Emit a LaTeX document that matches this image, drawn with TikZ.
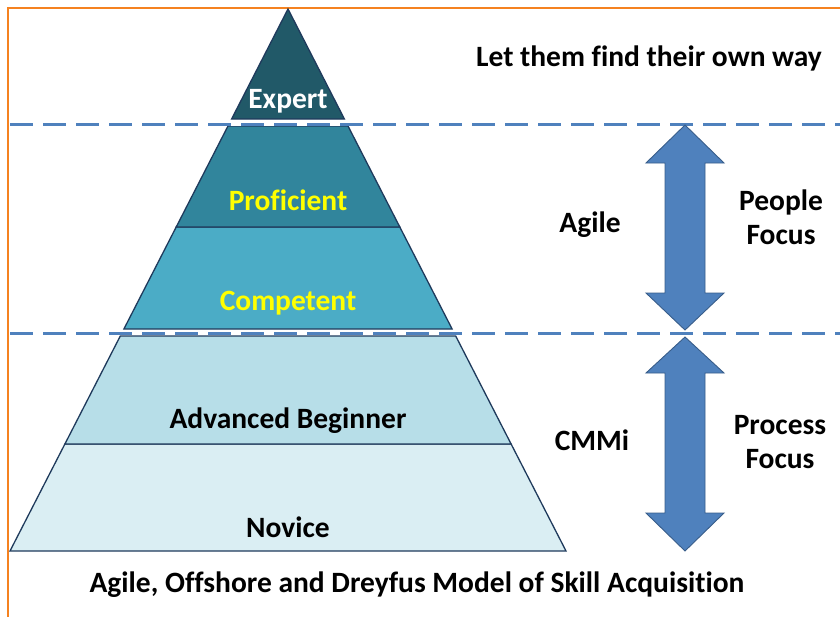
\documentclass[tikz,border=0pt]{standalone}
\usepackage{fontspec}
\setmainfont{Carlito}[Ligatures=NoCommon]
\definecolor{expertc}{HTML}{215968}
\definecolor{profc}{HTML}{31859C}
\definecolor{compc}{HTML}{4BACC6}
\definecolor{advc}{HTML}{B7DEE8}
\definecolor{novc}{HTML}{DAEEF3}
\definecolor{edgec}{HTML}{1F3A5C}
\definecolor{blue1}{HTML}{4F81BD}
\definecolor{blue2}{HTML}{385D8A}
\definecolor{orangec}{HTML}{F58220}
\definecolor{yel}{HTML}{FFFF00}
\tikzset{
  layer/.style={draw=edgec, line width=1.3pt, line join=miter},
  sep/.style={draw=blue1, line width=3pt, dash pattern=on 23pt off 10pt},
  bigarrow/.style={fill=blue1, draw=blue2, line width=0.9pt},
  lbl/.style={font=\fontsize{29.5}{34}\selectfont\bfseries, anchor=base, inner sep=0pt},
}
\begin{document}
\begin{tikzpicture}[x=1pt,y=-1pt]
\useasboundingbox (0,0) rectangle (840,616);
% border
\draw[orangec, line width=2.5pt] (8,617) -- (8,8) -- (841,8);
% pyramid layers
\fill[novc] (64.9,444) -- (511.1,444) -- (566,551) -- (10,551) -- cycle;
\draw[layer] (64.9,444) -- (511.1,444) -- (566,551) -- (10,551) -- cycle;
\fill[advc] (120.3,336) -- (455.7,336) -- (511.1,444) -- (64.9,444) -- cycle;
\draw[layer] (120.3,336) -- (455.7,336) -- (511.1,444) -- (64.9,444) -- cycle;
\fill[compc] (176.2,227) -- (399.8,227) -- (452.1,329) -- (123.9,329) -- cycle;
\draw[layer] (176.2,227) -- (399.8,227) -- (452.1,329) -- (123.9,329) -- cycle;
\fill[profc] (228,126) -- (348,126) -- (399.8,227) -- (176.2,227) -- cycle;
\draw[layer] (228,126) -- (348,126) -- (399.8,227) -- (176.2,227) -- cycle;
\fill[expertc] (288,9) -- (344.4,119) -- (231.6,119) -- cycle;
\draw[layer] (288,9) -- (344.4,119) -- (231.6,119) -- cycle;
% separators
\coordinate (s1a) at (10,124); \coordinate (s1b) at (840,124);
\coordinate (s2a) at (10,333); \coordinate (s2b) at (840,333);
\draw[white, line width=4pt] (120,124) -- (360,124);
\draw[white, line width=4pt] (110,333) -- (470,333);
\draw[sep] (s1a) -- (s1b);
\draw[sep] (s2a) -- (s2b);
% arrows
\draw[bigarrow] (685,125) -- (724,163) -- (705,163) -- (705,293) -- (724,293) -- (685,330)
  -- (646,293) -- (665,293) -- (665,163) -- (646,163) -- cycle;
\draw[bigarrow] (685,337) -- (724,373) -- (705,373) -- (705,513) -- (724,513) -- (685,551)
  -- (646,513) -- (665,513) -- (665,373) -- (646,373) -- cycle;
% labels
\node[lbl, text=white] (expert) at (288,108) {Expert};
\node[lbl, text=yel] (prof) at (288,210) {Proficient};
\node[lbl, text=yel] (comp) at (288,310) {Competent};
\node[lbl] (adv) at (288,428) {Advanced Beginner};
\node[lbl] (nov) at (288,537) {Novice};
\node[lbl] (own) at (649,66) {Let them find their own way};
\node[lbl] (agile) at (590,232) {Agile};
\node[lbl] (people) at (781,210) {People};
\node[lbl] (focus1) at (781,244) {Focus};
\node[lbl] (cmmi) at (592,450) {CMMi};
\node[lbl] (process) at (780,434) {Process};
\node[lbl] (focus2) at (780,468) {Focus};
\node[lbl] (caption) at (417,592) {Agile, Offshore and Dreyfus Model of Skill Acquisition};
\end{tikzpicture}
\end{document}
